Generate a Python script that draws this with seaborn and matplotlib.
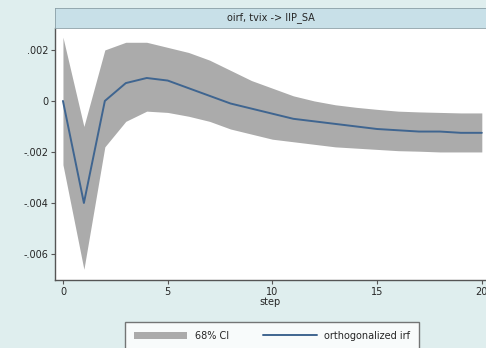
import numpy as np
import pandas as pd
import matplotlib
matplotlib.use('Agg')
import matplotlib.pyplot as plt
import seaborn as sns
from matplotlib.patches import Patch
from matplotlib.lines import Line2D

steps = list(range(21))
oirf = [0.0, -0.0040, 0.0, 0.0007, 0.0009, 0.0008, 0.0005, 0.0002, -0.0001, -0.0003,
        -0.0005, -0.0007, -0.0008, -0.0009, -0.0010, -0.0011, -0.00115, -0.0012,
        -0.0012, -0.00125, -0.00125]
ci_upper = [0.0025, -0.0010, 0.0020, 0.0023, 0.0023, 0.0021, 0.0019, 0.0016, 0.0012,
            0.0008, 0.0005, 0.0002, 0.0, -0.00015, -0.00025, -0.00033, -0.0004, -0.00043,
            -0.00045, -0.00047, -0.00047]
ci_lower = [-0.0025, -0.0066, -0.0018, -0.0008, -0.0004, -0.00045, -0.0006, -0.0008,
            -0.0011, -0.0013, -0.0015, -0.0016, -0.0017, -0.0018, -0.00185, -0.0019,
            -0.00195, -0.00197, -0.002, -0.002, -0.002]
yticks = [0.002, 0.0, -0.002, -0.004, -0.006]
ytick_labels = ['.002', '0', '-.002', '-.004', '-.006']
xticks = [0, 5, 10, 15, 20]

df = pd.DataFrame({'step': steps, 'oirf': oirf, 'lo': ci_lower, 'hi': ci_upper})

sns.set_style('white')
plt.rcParams['font.family'] = ['DejaVu Sans']

bg = '#dfeeee'
fig = plt.figure(figsize=(4.86, 3.48), dpi=100, facecolor=bg)
ax = fig.add_axes([55 / 486, 68 / 348, 431 / 486, 252 / 348])
ax.set_facecolor('white')

ax.fill_between(df['step'], df['lo'], df['hi'], color='#ababab', linewidth=0)
sns.lineplot(data=df, x='step', y='oirf', ax=ax, color='#3f6590', linewidth=1.4)

ax.set_xlim(-0.38, 20.2)
ax.set_ylim(-0.00702, 0.00286)
ax.set_xticks(xticks)
ax.set_yticks(yticks)
ax.set_yticklabels(ytick_labels)
ax.tick_params(axis='both', labelsize=7, length=3, color='#555555', direction='out',
               bottom=True, left=True, pad=2)
ax.set_xlabel('step', fontsize=7, labelpad=0)
ax.set_ylabel('')
for side in ['top', 'right']:
    ax.spines[side].set_visible(False)
for side in ['left', 'bottom']:
    ax.spines[side].set_color('#555555')
    ax.spines[side].set_linewidth(1.0)

# title strip
tax = fig.add_axes([55 / 486, 1 - 28 / 348, 431 / 486, 20 / 348])
tax.set_facecolor('#c8e0e8')
tax.set_xticks([])
tax.set_yticks([])
for s in tax.spines.values():
    s.set_color('#8a9fa6')
    s.set_linewidth(0.6)
tax.text(0.5, 0.5, 'oirf, tvix -> IIP_SA', ha='center', va='center', fontsize=7,
         transform=tax.transAxes)

handles = [Patch(facecolor='#ababab', edgecolor='none'),
           Line2D([0], [0], color='#3f6590', linewidth=1.4)]
fig.legend(handles, ['68% CI', 'orthogonalized irf'], loc='upper center',
           bbox_to_anchor=(272 / 486, 1 - 322 / 348), ncol=2, fontsize=7, frameon=True,
           fancybox=False, edgecolor='#555555', handlelength=5.5, columnspacing=3.5,
           borderpad=0.9, borderaxespad=0)

fig.savefig('out.png', dpi=100, facecolor=bg)
